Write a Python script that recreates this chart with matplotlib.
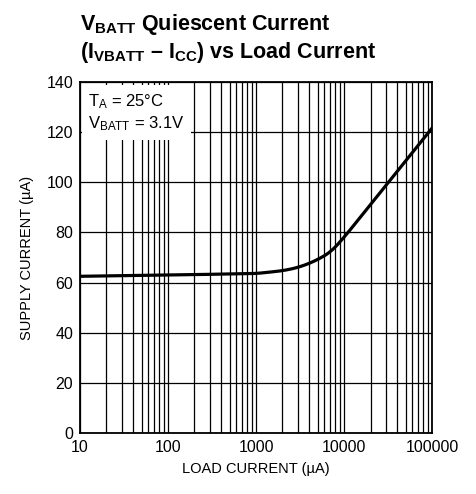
import matplotlib
matplotlib.use("Agg")
import matplotlib.pyplot as plt
from matplotlib.ticker import FixedLocator, NullFormatter, LogLocator
import numpy as np

# curve data
load_ua = [10, 100, 1000, 2000, 3000, 4500, 7000, 10000, 20000, 30000, 50000, 100000]
supply_ua = [62.5, 63.0, 63.6, 64.7, 66.0, 68.3, 72.0, 78.0, 91.1, 98.8, 108.4, 121.6]

x_ticks = [10, 100, 1000, 10000, 100000]
x_tick_labels = ["10", "100", "1000", "10000", "100000"]
y_ticks = [0, 20, 40, 60, 80, 100, 120, 140]

FONT = "Liberation Sans"
plt.rcParams["mathtext.fontset"] = "custom"
plt.rcParams["mathtext.rm"] = FONT
plt.rcParams["mathtext.bf"] = FONT + ":bold"

fig = plt.figure(figsize=(4.77, 4.94), dpi=100)
ax = fig.add_axes([0.1677, 0.1235, 0.738, 0.7105])

# smooth the knee in log space
lx = np.log10(load_ua)
xs = np.linspace(lx[0], lx[-1], 400)
ys = np.interp(xs, lx, supply_ua)
k = 8
ys_s = np.convolve(np.pad(ys, k, mode="reflect", reflect_type="odd"), np.ones(2 * k + 1) / (2 * k + 1), mode="same")[k:-k]
ax.plot(10 ** xs, ys_s, color="black", lw=2.3, zorder=4)

ax.set_xscale("log")
ax.set_xlim(10, 100000)
ax.set_ylim(0, 140)
ax.xaxis.set_major_locator(FixedLocator(x_ticks))
ax.set_xticklabels(x_tick_labels)
ax.xaxis.set_minor_locator(LogLocator(base=10, subs=np.arange(2, 10)))
ax.xaxis.set_minor_formatter(NullFormatter())
ax.set_yticks(y_ticks)
ax.grid(True, which="both", axis="x", color="black", lw=0.9)
ax.grid(True, which="major", axis="y", color="black", lw=0.9)
ax.tick_params(which="both", length=0, pad=5)
for lab in ax.get_xticklabels() + ax.get_yticklabels():
    lab.set_fontfamily(FONT)
    lab.set_fontsize(11.5)
for s in ax.spines.values():
    s.set_linewidth(1.3)

ax.set_xlabel("LOAD CURRENT (µA)", family=FONT, fontsize=10.5, labelpad=5)
ax.set_ylabel("SUPPLY CURRENT (µA)", family=FONT, fontsize=10.5, labelpad=9)

ax.text(0.024, 0.972, "$\\mathrm{T_A}$ = 25°C\n$\\mathrm{V_{BATT}}$ = 3.1V",
        transform=ax.transAxes, ha="left", va="top", family=FONT,
        fontsize=12, linespacing=1.3, zorder=5,
        bbox=dict(facecolor="white", edgecolor="none", pad=4.5))

fig.text(0.168, 0.975, "$\\mathbf{V_{BATT}}$ Quiescent Current\n($\\mathbf{I_{VBATT}}$ – $\\mathbf{I_{CC}}$) vs Load Current",
         ha="left", va="top", family=FONT, fontweight="bold",
         fontsize=15.5, linespacing=1.15)

fig.savefig("out.png", dpi=100)
